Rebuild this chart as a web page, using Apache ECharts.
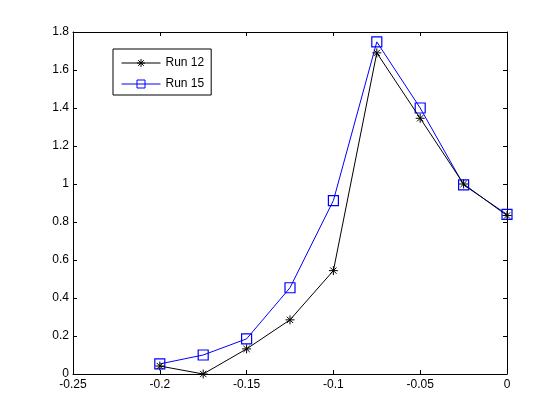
<!DOCTYPE html>
<html><head><meta charset="utf-8">
<script src="https://cdn.jsdelivr.net/npm/echarts@6/dist/echarts.min.js"></script>
<style>html,body{margin:0;padding:0;background:#fff}#c{width:560px;height:420px}</style>
</head><body><div id="c"></div>
<script>
var xValues = [-0.2, -0.175, -0.15, -0.125, -0.1, -0.075, -0.05, -0.025, 0];
var run12 = [0.042, 0.0, 0.132, 0.285, 0.544, 1.69, 1.346, 1.0, 0.834];
var run15 = [0.053, 0.10, 0.185, 0.454, 0.913, 1.748, 1.40, 0.995, 0.84];
var seriesNames = ['Run 12', 'Run 15'];

var starPath = 'path://M0,-5L0,5M-5,0L5,0M-3.5,-3.5L3.5,3.5M-3.5,3.5L3.5,-3.5';
var font = {fontFamily: 'Liberation Sans, Arial, sans-serif', fontSize: 12, color: '#000'};

function pairs(ys){ return xValues.map(function(x,i){return [x, ys[i]];}); }

var chart = echarts.init(document.getElementById('c'));
var tick = {show:true, inside:true, length:4, lineStyle:{color:'#000', width:1}};
var axLine = {show:true, onZero:false, lineStyle:{color:'#000', width:1}};
chart.setOption({
  backgroundColor:'#fff',
  animation:false,
  grid:{left:73, right:53, top:32, bottom:46},
  legend:{
    orient:'vertical', left:113, top:49,
    padding:[8,7,5,8], itemGap:9, itemWidth:39, itemHeight:10,
    borderColor:'#000', borderWidth:1, backgroundColor:'#fff',
    lineStyle:{width:1},
    itemStyle:{borderWidth:1},
    textStyle:{fontFamily:'Liberation Sans, Arial, sans-serif', fontSize:12, color:'#000'},
    data: seriesNames
  },
  xAxis:[
    {type:'value', min:-0.25, max:0, interval:0.05, position:'bottom',
     axisLine:axLine, axisTick:tick, splitLine:{show:false},
     axisLabel:Object.assign({margin:5}, font)},
    {type:'value', min:-0.25, max:0, interval:0.05, position:'top',
     axisLine:axLine, axisTick:tick, splitLine:{show:false}, axisLabel:{show:false}}
  ],
  yAxis:[
    {type:'value', min:0, max:1.8, interval:0.2, position:'left',
     axisLine:axLine, axisTick:tick, splitLine:{show:false},
     axisLabel:Object.assign({margin:4}, font)},
    {type:'value', min:0, max:1.8, interval:0.2, position:'right',
     axisLine:axLine, axisTick:tick, splitLine:{show:false}, axisLabel:{show:false}}
  ],
  series:[
    {name:seriesNames[0], type:'line', data:pairs(run12),
     symbol:starPath, symbolSize:9, showAllSymbol:true,
     lineStyle:{color:'#000', width:1},
     itemStyle:{color:'#000', borderColor:'#000', borderWidth:1},
     emphasis:{disabled:true}, z:3},
    {name:seriesNames[1], type:'line', data:pairs(run15),
     symbol:'rect', symbolSize:10, showAllSymbol:true,
     lineStyle:{color:'#0000ff', width:1},
     itemStyle:{color:'rgba(0,0,0,0)', borderColor:'#0000ff', borderWidth:1.2},
     emphasis:{disabled:true}, z:2}
  ]
});
</script></body></html>
